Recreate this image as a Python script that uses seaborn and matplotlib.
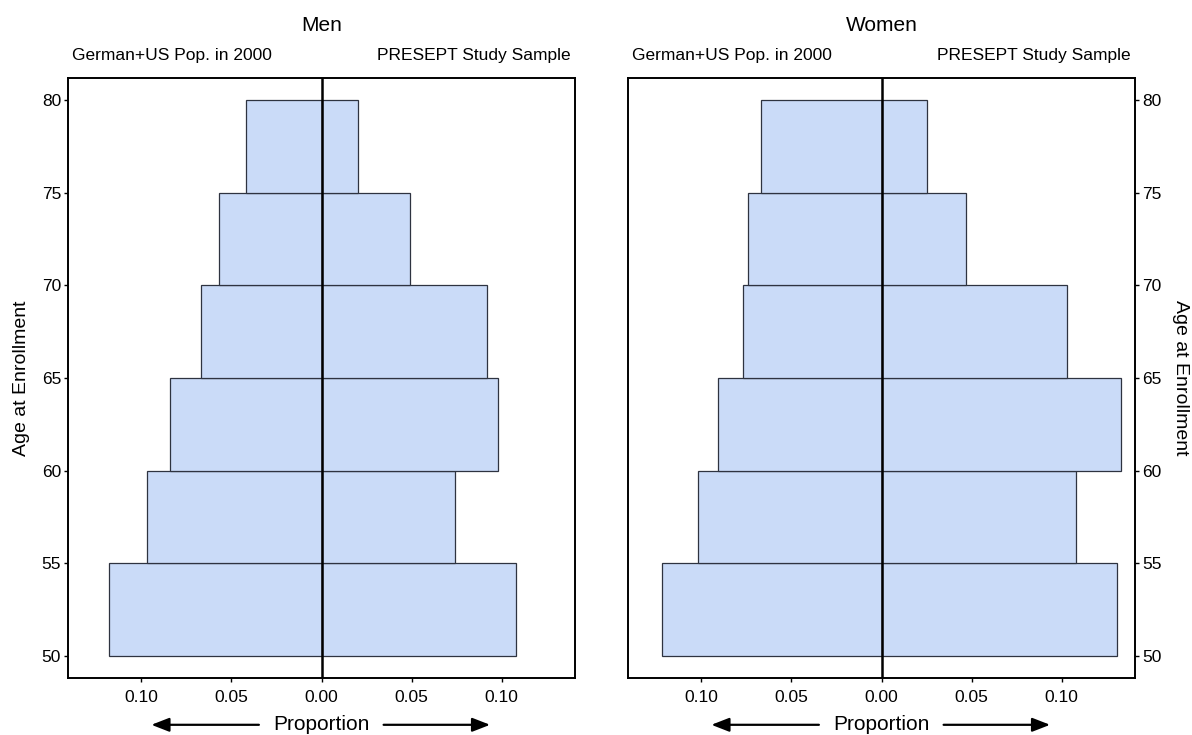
import matplotlib
matplotlib.use("Agg")
import matplotlib.pyplot as plt
import numpy as np
import pandas as pd
import seaborn as sns

sns.set_theme(style="white")
plt.rcParams["font.family"] = ["Liberation Sans", "DejaVu Sans"]
plt.rcParams["text.color"] = "black"
plt.rcParams["axes.labelcolor"] = "black"
plt.rcParams["xtick.color"] = "black"
plt.rcParams["ytick.color"] = "black"

# age groups (lower bound of each 5-year bin)
age_lower = [50, 55, 60, 65, 70, 75]

# proportions
men_pop = [0.118, 0.097, 0.084, 0.067, 0.057, 0.042]
men_sample = [0.108, 0.074, 0.098, 0.092, 0.049, 0.020]
women_pop = [0.122, 0.102, 0.091, 0.077, 0.074, 0.067]
women_sample = [0.131, 0.108, 0.133, 0.103, 0.047, 0.025]

panels = ["Men", "Women"]
bar_color = "#cadbf8"
edge_color = "#2e3340"


def make_df():
    rows = []
    for sex, pop, samp in [("Men", men_pop, men_sample), ("Women", women_pop, women_sample)]:
        for lo, p, s in zip(age_lower, pop, samp):
            rows.append([sex, "pop", lo + 2.5, -p])
            rows.append([sex, "sample", lo + 2.5, s])
    return pd.DataFrame(rows, columns=["sex", "side", "age", "prop"])


df = make_df()

fig = plt.figure(figsize=(11.92, 7.35), dpi=100)
ax_w = 507 / 1192
ax_h = 600 / 735
ax_b = 1 - 678 / 735
lefts = [68 / 1192, 628 / 1192]

for i, sex in enumerate(panels):
    ax = fig.add_axes([lefts[i], ax_b, ax_w, ax_h])
    sub = df[df["sex"] == sex]
    sns.barplot(
        data=sub,
        x="prop",
        y="age",
        hue="side",
        palette=[bar_color, bar_color],
        saturation=1,
        orient="h",
        native_scale=True,
        width=1,
        dodge=False,
        errorbar=None,
        legend=False,
        edgecolor=edge_color,
        linewidth=0.9,
        ax=ax,
    )
    ax.axvline(0, color="black", lw=1.8, zorder=5)
    ax.set_xlim(-0.1408, 0.1408)
    ax.set_ylim(48.8, 81.2)
    ticks = [-0.10, -0.05, 0.0, 0.05, 0.10]
    ax.set_xticks(ticks)
    ax.set_xticklabels([f"{abs(t):.2f}" for t in ticks])
    ax.set_yticks([50, 55, 60, 65, 70, 75, 80])
    ax.set_xlabel("")
    ax.set_ylabel("")
    for sp in ax.spines.values():
        sp.set_visible(True)
        sp.set_color("black")
        sp.set_linewidth(1.4)
    ax.tick_params(axis="both", direction="out", length=3, width=1, color="black",
                   labelsize=12.5, pad=6, bottom=True, left=(i == 0), right=(i == 1),
                   labelleft=(i == 0), labelright=(i == 1))
    ax.tick_params(axis="y", pad=2)
    if i == 0:
        ax.set_ylabel("Age at Enrollment", fontsize=14, labelpad=8)
    else:
        ax.yaxis.set_label_position("right")
        ax.set_ylabel("Age at Enrollment", fontsize=14, rotation=270, labelpad=20)

    ax.set_title(sex, fontsize=15, pad=34)
    ax.text(0.008, 1.038, "German+US Pop. in 2000", transform=ax.transAxes,
            ha="left", va="center", fontsize=12.5)
    ax.text(0.992, 1.038, "PRESEPT Study Sample", transform=ax.transAxes,
            ha="right", va="center", fontsize=12.5)

    # proportion label with arrows
    ax.text(0.5, -0.0925, "Proportion", transform=ax.transAxes, ha="center",
            va="bottom", fontsize=15)
    arrow = dict(arrowstyle="-|>,head_length=0.9,head_width=0.35", color="black", lw=1.6)
    ax.annotate("", xy=(0.159, -0.078), xytext=(0.382, -0.078), xycoords="axes fraction",
                textcoords="axes fraction", arrowprops=arrow, annotation_clip=False)
    ax.annotate("", xy=(0.838, -0.078), xytext=(0.617, -0.078), xycoords="axes fraction",
                textcoords="axes fraction", arrowprops=arrow, annotation_clip=False)

fig.savefig("out.png", dpi=100)
